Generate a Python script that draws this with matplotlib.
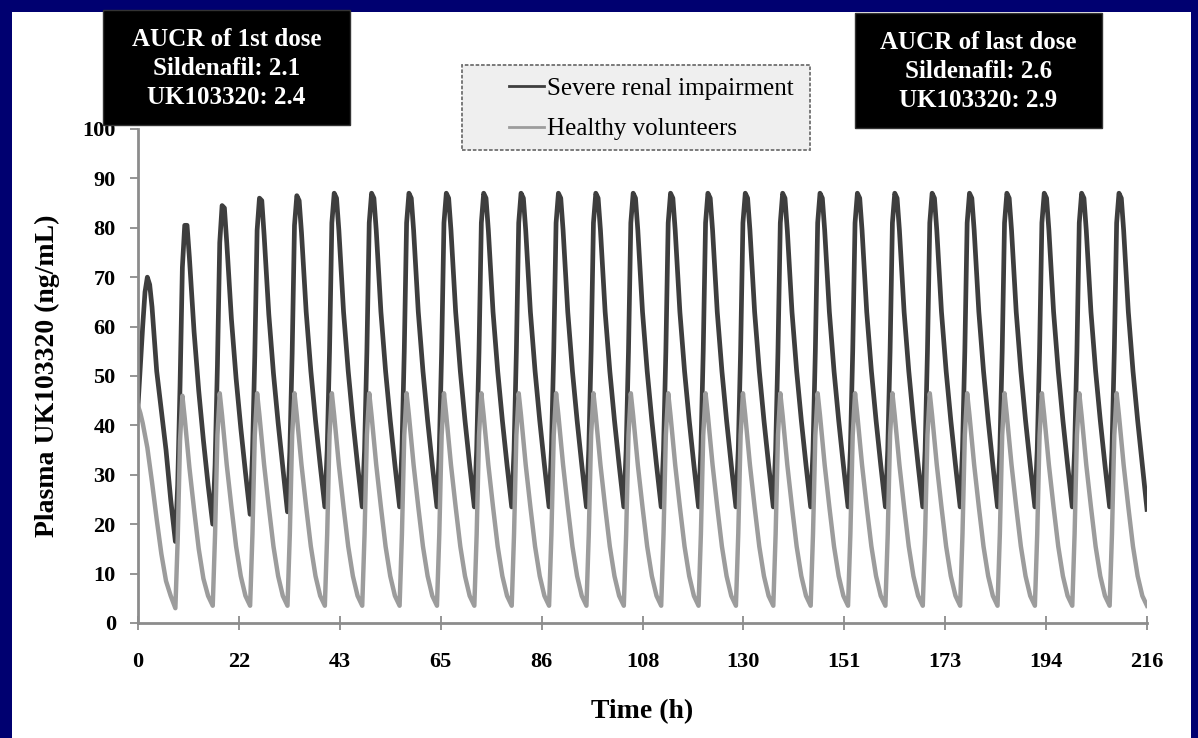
import numpy as np
import matplotlib
matplotlib.use('Agg')
import matplotlib.pyplot as plt
from matplotlib.patches import Rectangle

# dosing every 8 h, 27 doses; values read per dose interval at these offsets (h)
dose_times = np.arange(0, 216, 8)
sample_offsets = [0, 0.5, 1, 1.5, 2, 2.5, 3, 4, 5, 6, 7]
end_time = 216

steady_severe = [23.5, 35, 55, 81, 87, 86, 79.5, 63, 51, 41, 32]
severe_rows = [
    [44, 52, 60, 67, 70, 68.5, 64, 51, 43, 35, 25],
    [16.5, 28, 48, 72, 80.5, 80.5, 74, 59, 47, 37, 28],
    [20, 32, 52, 77, 84.5, 84, 77, 61.5, 49.5, 39.5, 30.5],
    [22, 34, 54, 79.5, 86, 85.5, 78.5, 62.5, 50.5, 40.5, 31.5],
    [22.5, 34.5, 54.5, 80.5, 86.5, 85.5, 79, 63, 51, 41, 32],
] + [steady_severe] * 22
severe_end = 23

steady_healthy = [3.5, 18, 38, 46.5, 42, 37, 32, 23.5, 15.5, 9.5, 5.5]
healthy_rows = [
    [44, 42.5, 40.5, 38, 35.5, 32, 28.5, 21, 14, 8.5, 5.5],
    [3, 17, 37, 46, 41.5, 36.5, 31.5, 23, 15, 9, 5.5],
] + [steady_healthy] * 25
healthy_end = 3.5

xtick_labels = ['0', '22', '43', '65', '86', '108', '130', '151', '173', '194', '216']
box_left = 'AUCR of 1st dose\nSildenafil: 2.1\nUK103320: 2.4'
box_right = 'AUCR of last dose\nSildenafil: 2.6\nUK103320: 2.9'

plt.rcParams['font.family'] = ['Liberation Serif', 'DejaVu Serif']

W, H = 1198, 738
fig = plt.figure(figsize=(W / 100, H / 100), dpi=100)
fig.patch.set_facecolor('#000070')


def fx(px):
    return px / W


def fy(py):
    return 1 - py / H


# white panel inside the navy frame
fig.add_artist(Rectangle((fx(12), 0), fx(1191 - 12), fy(12), transform=fig.transFigure,
                         facecolor='white', edgecolor='none', zorder=-10))

ax = fig.add_axes([fx(138), fy(623), fx(1147 - 138), (623 - 129) / H])
ax.set_facecolor('none')

t = np.append((dose_times[:, None] + np.array(sample_offsets)).ravel(), end_time)
severe = np.append(np.ravel(severe_rows), severe_end)
healthy = np.append(np.ravel(healthy_rows), healthy_end)

l1, = ax.plot(t, severe, color='#3e3e3e', lw=3.4, solid_joinstyle='round', label='Severe renal impairment')
l2, = ax.plot(t, healthy, color='#9c9c9c', lw=3.2, solid_joinstyle='round', label='Healthy volunteers')

ax.set_xlim(0, 216)
ax.set_ylim(0, 100)
ax.set_xticks(np.linspace(0, 216, 11))
ax.set_xticklabels(xtick_labels)
ax.set_yticks(np.arange(0, 101, 10))

for s in ['top', 'right']:
    ax.spines[s].set_visible(False)
for s in ['left', 'bottom']:
    ax.spines[s].set_color('#8c8c8c')
    ax.spines[s].set_linewidth(2)
ax.tick_params(axis='x', direction='inout', length=10, width=1.3, color='#8c8c8c', pad=16)
ax.tick_params(axis='y', direction='out', length=6, width=1.3, color='#8c8c8c', pad=10)
for lab in ax.get_xticklabels() + ax.get_yticklabels():
    lab.set_fontsize(16)
    lab.set_fontweight('bold')

ax.set_xlabel('Time (h)', fontsize=20, fontweight='bold')
ax.xaxis.set_label_coords(0.5, -(712 - 623) / (623 - 129))
ax.xaxis.label.set_va('center')
ax.set_ylabel('Plasma UK103320 (ng/mL)', fontsize=20, fontweight='bold')
ax.yaxis.set_label_coords(-(138 - 47) / (1147 - 138), 0.5)
ax.yaxis.label.set_va('center')

# legend frame (dashed, light gray) and entries
fig.add_artist(Rectangle((fx(462), fy(150)), fx(810 - 462), (150 - 65) / H, transform=fig.transFigure,
                         facecolor='#efefef', edgecolor='#707070', lw=1.3, ls=(0, (2, 1)), zorder=2))
leg = fig.legend(handles=[l1, l2], loc='center left', bbox_to_anchor=(fx(509), fy(109)),
                 frameon=False, fontsize=18, handlelength=1.4, handletextpad=0.12,
                 labelspacing=0.72, borderpad=0, borderaxespad=0)
leg.set_zorder(5)
for line in leg.get_lines():
    line.set_linewidth(2)

# AUCR boxes
for (x0, y0, x1, y1), txt in [((103, 10, 350, 125), box_left), ((855, 13, 1102, 128), box_right)]:
    fig.add_artist(Rectangle((fx(x0), fy(y1)), fx(x1 - x0), (y1 - y0) / H, transform=fig.transFigure,
                             facecolor='black', edgecolor='#333333', lw=1, zorder=3))
    fig.text(fx((x0 + x1) / 2), fy((y0 + y1) / 2 + 1), txt, color='white', fontsize=18,
             fontweight='bold', ha='center', va='center', linespacing=1.32, zorder=4)

fig.savefig('out.png', dpi=100, facecolor=fig.get_facecolor())
